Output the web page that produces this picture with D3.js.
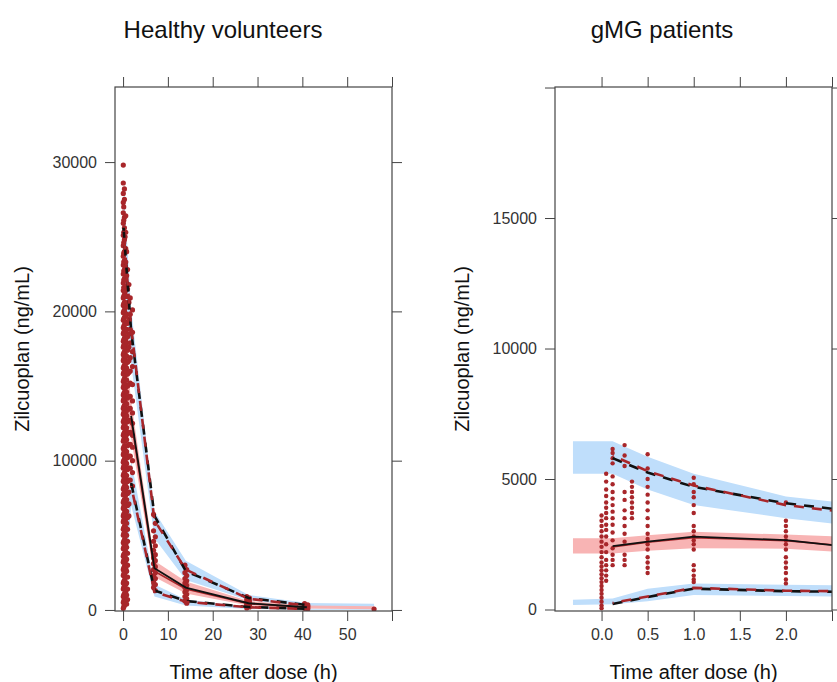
<!DOCTYPE html>
<html>
<head>
<meta charset="utf-8">
<script src="https://cdn.jsdelivr.net/npm/d3@7"></script>
<style>
  body { margin: 0; background: #fff; }
  text { font-family: "Liberation Sans", Arial, sans-serif; }
</style>
</head>
<body>
<div id="chart"></div>
<script>
// ---- Healthy volunteers ----
var hvBinT      = [0.1, 1.8, 7, 14, 28, 41, 56];
var hvHiBandLo  = [23000, 16500, 4800, 2000, 650, 230, 200];
var hvHiBandHi  = [28500, 20200, 6600, 3300, 1000, 470, 420];
var hvMedBandLo = [15000, 11500, 2200, 1100, 300, 100, 50];
var hvMedBandHi = [19000, 14000, 3300, 1900, 600, 300, 250];
var hvLoBandLo  = [0, 7000, 900, 300, 60, 20, 10];
var hvLoBandHi  = [1000, 10000, 1700, 700, 220, 100, 80];

// first bin of median and 5th percentile lies under the point column (not drawn)
var hvLineT   = [0.1, 1.8, 7, 14, 28, 41];
var hvSimP95  = [25600, 18700, 6300, 2600, 800, 330];
var hvObsP95  = [25400, 18900, 6000, 2700, 750, 300];
var hvSimP50  = [null, 13000, 2800, 1500, 450, 180];
var hvObsP50  = [null, 12700, 2600, 1400, 420, 170];
var hvSimP05  = [null, 8500, 1300, 600, 200, 80];
var hvObsP05  = [null, 8300, 1200, 550, 180, 70];

var hvObsTimes = [0.05, 0.15, 0.3, 0.45, 0.6, 0.8, 1.0, 1.3, 1.6, 2.1, 6.8, 7.2, 13.8, 14.2, 27.6, 28.2, 40.5, 41.2, 56];
var hvObsConc = [
  [29800, 28600, 27900, 27300, 26600, 25900, 25100, 24400, 23700, 23100, 22500, 21900, 21400, 20900, 20400, 19900, 19400, 18900, 18500, 18000, 17600, 17100, 16700, 16200, 15800, 15300, 14900, 14400, 14000, 13500, 13100, 12600, 12200, 11700, 11300, 10800, 10400, 9900, 9500, 9000, 8600, 8100, 7700, 7200, 6800, 6300, 5900, 5400, 5000, 4500, 4100, 3600, 3200, 2700, 2300, 1800, 1400, 900, 500, 100],
  [27000, 26100, 25300, 24600, 23900, 23300, 22700, 22100, 21600, 21000, 20500, 20000, 19500, 19000, 18600, 18100, 17700, 17200, 16800, 16300, 15900, 15400, 15000, 14500, 14100, 13600, 13200, 12700, 12300, 11800, 11400, 10900, 10500, 10000, 9600, 9100, 8700, 8200, 7800, 7300, 6900, 6400, 6000, 5500, 5100, 4600, 4200, 3700, 3300, 2800, 2400, 1900, 1500, 1000, 600, 200],
  [28200, 27500, 26300, 25600, 24800, 24000, 23400, 22800, 22200, 21600, 21100, 20600, 20100, 19600, 19100, 18700, 18200, 17800, 17300, 16900, 16400, 16000, 15500, 15100, 14600, 14200, 13700, 13300, 12800, 12400, 11900, 11500, 11000, 10600, 10100, 9700, 9200, 8800, 8300, 7900, 7400, 7000, 6500, 6100, 5600, 5200, 4700, 4300, 3800, 3400, 2900, 2500, 2000, 1600, 1100, 700, 300],
  [25000, 24000, 23000, 22100, 21300, 20600, 19900, 19300, 18800, 18300, 17700, 17200, 16700, 16200, 15700, 15100, 14600, 14000, 13500, 12900, 12400, 11800, 11300, 10700, 10200, 9600, 9100, 8500, 8000, 7400, 6900, 6300, 5800, 5200, 4700, 4100, 3600, 3000, 2500, 1900, 1400, 900, 400],
  [26400, 25300, 24200, 23300, 22400, 21700, 21000, 20300, 19700, 19200, 18600, 18100, 17500, 17000, 16500, 16000, 15400, 14900, 14300, 13800, 13200, 12700, 12100, 11600, 11000, 10500, 9900, 9400, 8800, 8300, 7700, 7200, 6600, 6100, 5500, 5000, 4400, 3900, 3300, 2800, 2200, 1700, 1200, 600],
  [24000, 22400, 21000, 19800, 18800, 17900, 17000, 16200, 15400, 14600, 13800, 13000, 12200, 11400, 10600, 9800, 9000, 8200, 7400, 6600, 5800, 5000, 4200, 3400, 2600, 1800, 1000, 400],
  [22800, 21500, 20300, 19200, 18300, 17400, 16600, 15800, 15000, 14200, 13400, 12600, 11800, 11000, 10200, 9400, 8600, 7800, 7000, 6200, 5400, 4600, 3800, 3000, 2200, 1400, 700],
  [21800, 20600, 19500, 18500, 17600, 16700, 15900, 15100, 14300, 13500, 12700, 11900, 11100, 10300, 9500, 8700, 7900, 7100, 6300],
  [20900, 19800, 18800, 17900, 16900, 16000, 15200, 14300, 13500, 12700, 11900, 11100, 10300, 9500, 8700],
  [20100, 18600, 17300, 16300, 15100, 14000, 13200, 12500, 11700, 10900, 10000, 9200, 8300],
  [6400, 5300, 4600, 4000, 3500, 3100, 2700, 2300, 1900, 1500],
  [5800, 4900, 4300, 3700, 3300, 2900, 2500, 2100, 1700, 1300],
  [3000, 2500, 2100, 1800, 1500, 1200, 900, 600],
  [2700, 2300, 1950, 1650, 1350, 1050, 750, 450],
  [900, 700, 520, 380, 250, 130],
  [800, 620, 450, 320, 200],
  [420, 300, 200, 110],
  [350, 250, 150, 60],
  [60]
];

// ---- gMG patients ----
var mgBinT      = [-0.31, 0.12, 0.5, 1.0, 2.0, 2.6];
var mgHiBandLo  = [5200, 5200, 4600, 4000, 3500, 3250];
var mgHiBandHi  = [6450, 6450, 5850, 5200, 4330, 4100];
var mgMedBandLo = [2150, 2150, 2250, 2350, 2330, 2200];
var mgMedBandHi = [2730, 2730, 2850, 2980, 2870, 2800];
var mgLoBandLo  = [170, 200, 320, 560, 520, 500];
var mgLoBandHi  = [370, 420, 800, 1000, 950, 930];

var mgLineT  = [0.12, 0.5, 1.0, 2.0, 2.6];
var mgSimP95 = [5800, 5250, 4700, 4070, 3820];
var mgObsP95 = [5900, 5300, 4750, 4000, 3750];
var mgSimP50 = [2430, 2600, 2790, 2660, 2430];
var mgObsP50 = [2400, 2580, 2750, 2640, 2450];
var mgSimP05 = [210, 480, 800, 700, 680];
var mgObsP05 = [250, 500, 830, 720, 700];

var mgObsTimes = [0.0, 0.05, 0.12, 0.25, 0.33, 0.5, 1.0, 2.0];
var mgObsConc = [
  [3600, 3400, 3200, 3000, 2800, 2600, 2400, 2200, 2000, 1800, 1650, 1500, 1350, 1200, 1050, 900, 750, 600, 450, 300, 150, 50],
  [5200, 4900, 4600, 4350, 4100, 3900, 3700, 3500, 3250, 3050, 2800, 2500, 2200, 1900, 1700, 1500, 1300, 1100],
  [6150, 6000, 5800, 5600, 5100, 4800, 4500, 4250, 4000, 3750, 3500, 3250, 2950, 2650, 2350, 2100, 1900, 1700],
  [6300, 5900, 5500, 4500, 4200, 3800, 3500, 3200, 2900, 2600, 2100, 1900, 1700],
  [4900, 4700, 4500, 4300, 4100, 3900, 3700, 3500],
  [5950, 5400, 5000, 4700, 4400, 4100, 3800, 3500, 3200, 2900, 2700, 2500, 2300, 2000, 1800, 1600, 1400],
  [5050, 4800, 4500, 4300, 4000, 3700, 3200, 3000, 2800, 2650, 2500, 2300, 1700, 1500, 1300, 1150, 1050],
  [4100, 3400, 3200, 3000, 2800, 2650, 2500, 2300, 2000, 1800, 1600, 1400, 1150, 1000]
];

var W = 837, H = 682;
var blueBand = "#bfdefb", pinkBand = "#f8b4b4", red = "#a8262a";

var svg = d3.select("#chart").append("svg")
    .attr("width", W)
    .attr("height", H);

function zip(t, v) {
    return t.map(function(d, i){ return [d, v[i]]; });
}

function drawPanel(p) {
    var x = d3.scaleLinear().domain(p.xDomain).range([p.left, p.right]);
    var y = d3.scaleLinear().domain(p.yDomain).range([p.bottom, p.top]);
    var g = svg.append("g");

    var clipId = "clip-" + p.id;
    g.append("clipPath").attr("id", clipId)
        .append("rect")
        .attr("x", p.left).attr("y", p.top)
        .attr("width", p.right - p.left).attr("height", p.bottom - p.top);

    var plot = g.append("g").attr("clip-path", "url(#" + clipId + ")");

    var area = d3.area()
        .x(function(d){ return x(d[0]); })
        .y0(function(d){ return y(d[1]); })
        .y1(function(d){ return y(d[2]); });
    var line = d3.line()
        .defined(function(d){ return d[1] != null; })
        .x(function(d){ return x(d[0]); })
        .y(function(d){ return y(d[1]); });

    var bands = [
        {lo: p.hiLo, hi: p.hiHi, fill: blueBand},
        {lo: p.loLo, hi: p.loHi, fill: blueBand},
        {lo: p.medLo, hi: p.medHi, fill: pinkBand}
    ];
    bands.forEach(function(b) {
        var pts = p.binT.map(function(t, i){ return [t, b.lo[i], b.hi[i]]; });
        plot.append("path").attr("d", area(pts)).attr("fill", b.fill);
    });

    // observed points
    var obs = [];
    p.obsT.forEach(function(t, i) {
        p.obsC[i].forEach(function(c){ obs.push([t, c]); });
    });
    plot.selectAll("circle.obs")
        .data(obs)
        .enter().append("circle")
        .attr("class", "obs")
        .attr("cx", function(d){ return x(d[0]); })
        .attr("cy", function(d){ return y(d[1]); })
        .attr("r", p.dotR)
        .attr("fill", red);

    // percentile lines: simulated black, observed red
    var lines = [
        {v: p.simP95, c: "#111", w: 2.6, dash: "10,8", off: 0},
        {v: p.obsP95, c: red, w: 2.6, dash: "10,8", off: 9},
        {v: p.simP05, c: "#111", w: 2.6, dash: "10,8", off: 0},
        {v: p.obsP05, c: red, w: 2.6, dash: "10,8", off: 9},
        {v: p.obsP50, c: red, w: 1.6, dash: null, off: 0},
        {v: p.simP50, c: "#111", w: 1.8, dash: null, off: 0}
    ];
    lines.forEach(function(l) {
        plot.append("path")
            .attr("d", line(zip(p.lineT, l.v)))
            .attr("fill", "none")
            .attr("stroke", l.c)
            .attr("stroke-width", l.w)
            .attr("stroke-dasharray", l.dash)
            .attr("stroke-dashoffset", l.off);
    });

    // axes on all four sides, labels only left and bottom
    var fmtX = function(d){ return p.hideX.indexOf(d) >= 0 ? "" : p.fmtX(d); };
    var fmtY = function(d){ return p.hideY.indexOf(d) >= 0 ? "" : d; };
    var axes = [
        {a: d3.axisBottom(x).tickValues(p.xTicks).tickFormat(fmtX), t: "translate(0," + p.bottom + ")"},
        {a: d3.axisTop(x).tickValues(p.xTicks).tickFormat(""), t: "translate(0," + p.top + ")"},
        {a: d3.axisLeft(y).tickValues(p.yTicks).tickFormat(fmtY), t: "translate(" + p.left + ",0)"},
        {a: d3.axisRight(y).tickValues(p.yTicks).tickFormat(""), t: "translate(" + p.right + ",0)"}
    ];
    axes.forEach(function(ax) {
        var sel = g.append("g")
            .attr("transform", ax.t)
            .call(ax.a.tickSize(10).tickPadding(8).tickSizeOuter(0));
        sel.select(".domain").remove();
        sel.selectAll("line").attr("stroke", "#444");
        sel.selectAll("text")
            .style("font-size", "16px")
            .attr("fill", "#333");
    });

    g.append("rect")
        .attr("x", p.left).attr("y", p.top)
        .attr("width", p.right - p.left).attr("height", p.bottom - p.top)
        .attr("fill", "none")
        .attr("stroke", "#444")
        .attr("stroke-width", 1.2);

    g.append("text")
        .attr("x", p.titleX).attr("y", 38)
        .attr("text-anchor", "middle")
        .style("font-size", "24px")
        .attr("fill", "#111")
        .text(p.title);

    g.append("text")
        .attr("x", (p.left + p.right) / 2).attr("y", 679)
        .attr("text-anchor", "middle")
        .style("font-size", "20px")
        .attr("fill", "#111")
        .text("Time after dose (h)");

    g.append("text")
        .attr("transform", "translate(" + p.ylabX + "," + ((p.top + p.bottom) / 2) + ") rotate(-90)")
        .attr("text-anchor", "middle")
        .style("font-size", "20px")
        .attr("fill", "#111")
        .text("Zilcuoplan (ng/mL)");
}

drawPanel({
    id: "hv", left: 115, right: 392, top: 87, bottom: 611,
    xDomain: [-1.8, 60], yDomain: [-70, 35030],
    xTicks: [0, 10, 20, 30, 40, 50, 60], hideX: [60], fmtX: d3.format("d"),
    yTicks: [0, 10000, 20000, 30000], hideY: [],
    binT: hvBinT, hiLo: hvHiBandLo, hiHi: hvHiBandHi, medLo: hvMedBandLo, medHi: hvMedBandHi,
    loLo: hvLoBandLo, loHi: hvLoBandHi,
    lineT: hvLineT, simP95: hvSimP95, obsP95: hvObsP95, simP50: hvSimP50, obsP50: hvObsP50,
    simP05: hvSimP05, obsP05: hvObsP05,
    obsT: hvObsTimes, obsC: hvObsConc, dotR: 2.6,
    title: "Healthy volunteers", titleX: 223, ylabX: 29
});

drawPanel({
    id: "mg", left: 555, right: 832, top: 87, bottom: 611,
    xDomain: [-0.505, 2.5], yDomain: [-57, 20020],
    xTicks: [0, 0.5, 1, 1.5, 2, 2.5], hideX: [2.5], fmtX: d3.format(".1f"),
    yTicks: [0, 5000, 10000, 15000, 20000], hideY: [20000],
    binT: mgBinT, hiLo: mgHiBandLo, hiHi: mgHiBandHi, medLo: mgMedBandLo, medHi: mgMedBandHi,
    loLo: mgLoBandLo, loHi: mgLoBandHi,
    lineT: mgLineT, simP95: mgSimP95, obsP95: mgObsP95, simP50: mgSimP50, obsP50: mgObsP50,
    simP05: mgSimP05, obsP05: mgObsP05,
    obsT: mgObsTimes, obsC: mgObsConc, dotR: 2.2,
    title: "gMG patients", titleX: 662, ylabX: 469
});
</script>
</body>
</html>
